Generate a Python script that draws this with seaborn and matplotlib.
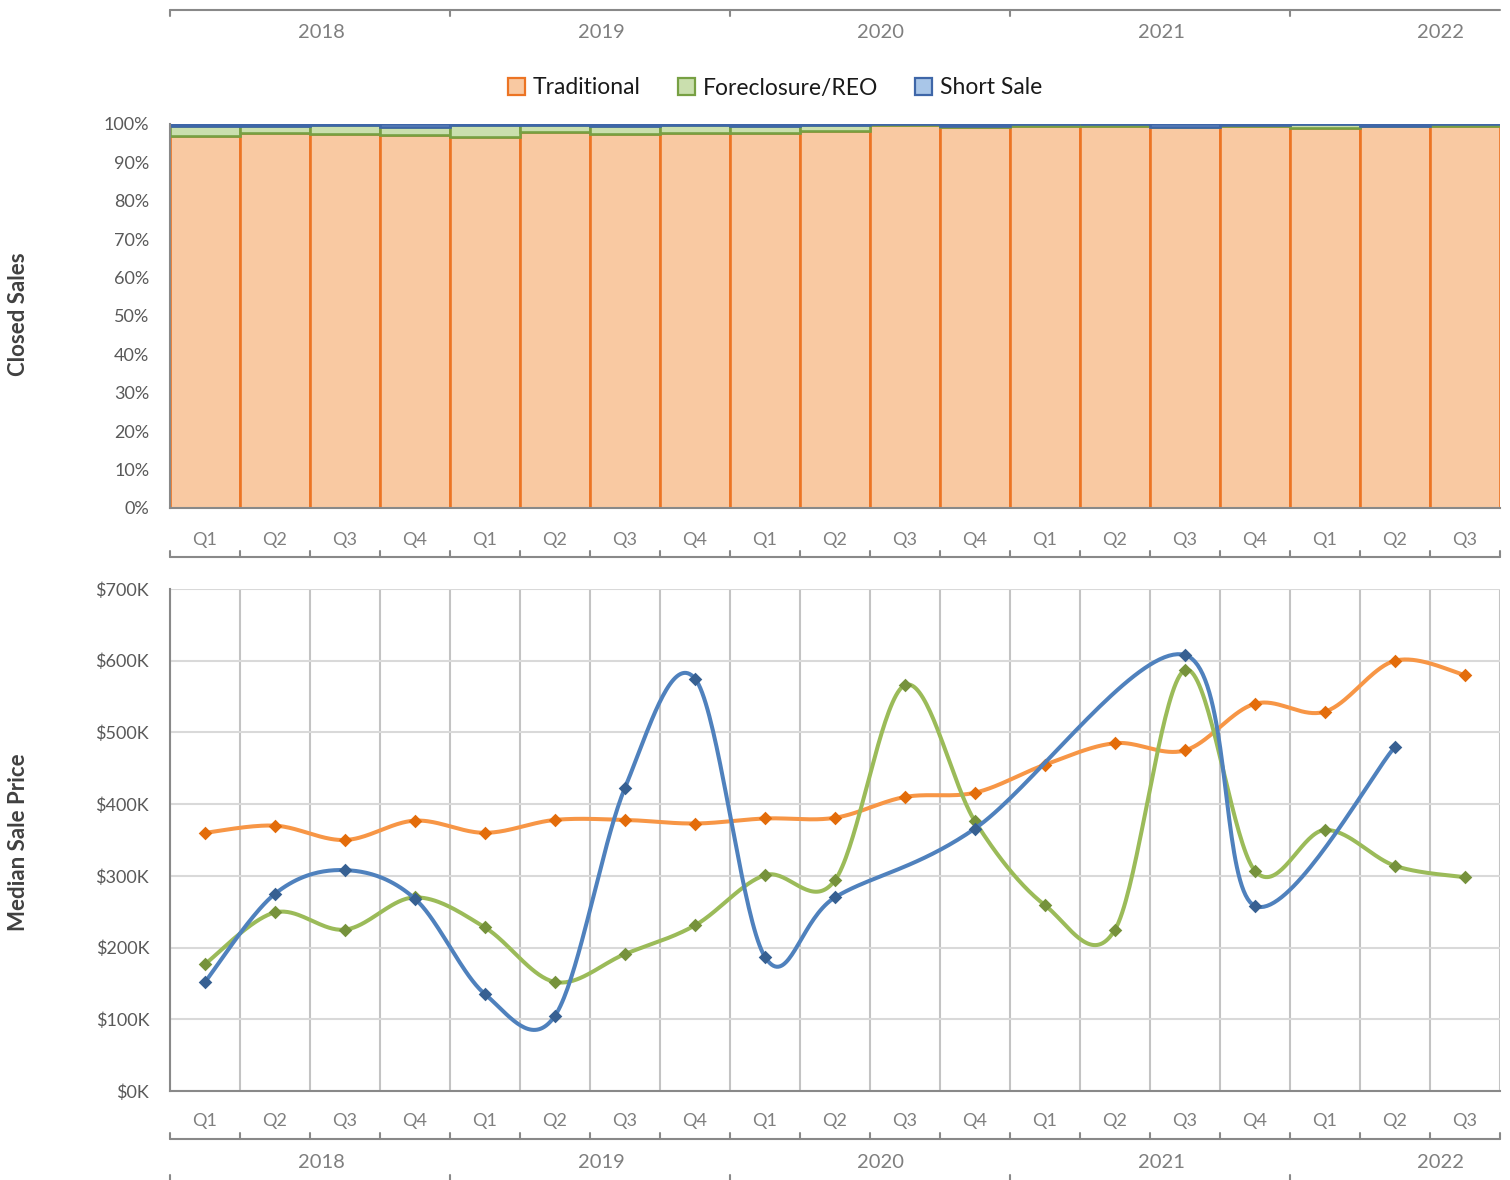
import numpy as np
import pandas as pd
import matplotlib
matplotlib.use("Agg")
import matplotlib.pyplot as plt
import matplotlib.transforms as mtransforms
from matplotlib.patches import Patch
from matplotlib.lines import Line2D
import seaborn as sns

# ---------------- data ----------------
years = ["2018", "2019", "2020", "2021", "2022"]
year_sizes = [4, 4, 4, 4, 3]
quarters = ["Q1", "Q2", "Q3", "Q4"] * 4 + ["Q1", "Q2", "Q3"]
periods = [f"{y} {q}" for y, n in zip(years, year_sizes) for q in ["Q1", "Q2", "Q3", "Q4"][:n]]

traditional_pct = [97.0, 97.7, 97.3, 97.1, 96.7, 97.9, 97.5, 97.7, 97.6, 98.1,
                   99.7, 99.3, 99.5, 99.5, 99.3, 99.5, 99.0, 99.4, 99.5]
foreclosure_pct = [2.6, 1.7, 2.4, 2.2, 3.1, 1.9, 1.9, 2.1, 1.8, 1.7,
                   0.3, 0.1, 0.5, 0.5, 0.0, 0.2, 1.0, 0.0, 0.5]
short_sale_pct = [0.4, 0.6, 0.3, 0.7, 0.2, 0.2, 0.6, 0.2, 0.6, 0.2,
                  0.0, 0.6, 0.0, 0.0, 0.7, 0.3, 0.0, 0.6, 0.0]

traditional_price = [360, 370, 350, 377, 360, 378, 378, 373, 380, 381,
                     410, 416, 455, 485, 475, 540, 529, 600, 580]
foreclosure_price = [177, 249, 225, 270, 228, 152, 191, 231, 301, 294,
                     566, 376, 259, 225, 587, 307, 364, 314, 298]
short_sale_price = [152, 275, 308, 268, 135, 105, 423, 575, 187, 270,
                    np.nan, 366, np.nan, np.nan, 608, 258, np.nan, 480, np.nan]

series_names = ["Traditional", "Foreclosure/REO", "Short Sale"]
bar_fill = ["#F9C9A2", "#CADFAE", "#A9C6E8"]
bar_edge = ["#EC7424", "#77A043", "#3E66A8"]
line_colors = ["#F79646", "#9BBB59", "#4F81BD"]
marker_colors = ["#E36C0A", "#76923C", "#376092"]

# ---------------- style ----------------
sns.set_style("white")
plt.rcParams["font.family"] = ["Lato", "DejaVu Sans"]

W, H = 1510, 1180
fig = plt.figure(figsize=(W / 100, H / 100), dpi=100)


def fy(py):
    return 1 - py / H


def fx(px):
    return px / W


L, R = 170, 1500
ax1 = fig.add_axes([fx(L), fy(508), fx(R) - fx(L), fy(124) - fy(508)])
ax2 = fig.add_axes([fx(L), fy(1091), fx(R) - fx(L), fy(589) - fy(1091)])

AXIS_GRAY = "#898989"
TICK_TXT = "#595959"
CAT_TXT = "#7F7F7F"

# ---------------- stacked 100% bars ----------------
df_bar = pd.DataFrame({"period": periods,
                       "Traditional": traditional_pct,
                       "Foreclosure/REO": foreclosure_pct,
                       "Short Sale": short_sale_pct})
bottom = np.zeros(len(periods))
for name, fc, ec in zip(series_names, bar_fill, bar_edge):
    sns.barplot(data=df_bar, x="period", y=name, order=periods, color=fc,
                saturation=1, edgecolor=ec, linewidth=1.9, width=1.0,
                bottom=bottom.copy(), ax=ax1, errorbar=None)
    bottom += df_bar[name].to_numpy()

ax1.set_xlim(-0.5, len(periods) - 0.5)
ax1.set_ylim(0, 100)
ax1.set_yticks(np.arange(0, 101, 10))
ax1.set_yticklabels([f"{v}%" for v in range(0, 101, 10)])
ax1.set_xticks(np.arange(-0.5, len(periods)))
ax1.set_xticklabels([])
ax1.set_xlabel("")
ax1.set_ylabel("")

# ---------------- smoothed lines ----------------
def excel_smooth(xs, ys, n=40):
    pts = np.array([(x, y) for x, y in zip(xs, ys) if not np.isnan(y)], float)
    m = len(pts)
    segs = []
    t = np.linspace(0, 1, n)[:, None]
    for i in range(m - 1):
        p0 = pts[i - 1] if i > 0 else pts[i]
        p1, p2 = pts[i], pts[i + 1]
        p3 = pts[i + 2] if i + 2 < m else pts[i + 1]
        c1 = p1 + (p2 - p0) / 6
        c2 = p2 - (p3 - p1) / 6
        seg = (1 - t) ** 3 * p1 + 3 * (1 - t) ** 2 * t * c1 + 3 * (1 - t) * t ** 2 * c2 + t ** 3 * p2
        segs.append(seg if i == 0 else seg[1:])
    return np.vstack(segs)


xpos = np.arange(len(periods))
prices = [traditional_price, foreclosure_price, short_sale_price]
for k, (vals, lc, mc) in enumerate(zip(prices, line_colors, marker_colors)):
    v = np.array(vals, float) * 1000
    curve = excel_smooth(xpos, v)
    sns.lineplot(x=curve[:, 0], y=curve[:, 1], sort=False, estimator=None,
                 color=lc, linewidth=2.9, ax=ax2, zorder=3 + 2 * k)
    ok = ~np.isnan(v)
    sns.scatterplot(x=xpos[ok], y=v[ok], marker="D", s=48, color=mc,
                    edgecolor=mc, linewidth=0, ax=ax2, zorder=4 + 2 * k)

ax2.set_xlim(-0.5, len(periods) - 0.5)
ax2.set_ylim(0, 700000)
ax2.set_yticks(np.arange(0, 700001, 100000))
ax2.set_yticklabels([f"${v}K" for v in range(0, 701, 100)])
ax2.set_xticks(np.arange(-0.5, len(periods)))
ax2.set_xticklabels([])
ax2.set_xlabel("")
ax2.set_ylabel("")
ax2.yaxis.grid(True, color="#D9D9D9", linewidth=1.5)
ax2.xaxis.grid(True, color="#C3C3C3", linewidth=1.5)
ax2.set_axisbelow(True)
if ax2.get_legend():
    ax2.get_legend().remove()

# ---------------- axes styling ----------------
for ax in (ax1, ax2):
    for s in ("top", "right"):
        ax.spines[s].set_visible(False)
    for s in ("left", "bottom"):
        ax.spines[s].set_color(AXIS_GRAY)
        ax.spines[s].set_linewidth(1.5)
    ax.tick_params(axis="y", direction="out", length=5, width=1.5, color=AXIS_GRAY,
                   labelsize=13, labelcolor=TICK_TXT, pad=10)
ax1.tick_params(axis="x", direction="out", length=5.5, width=1.5, color=AXIS_GRAY)
ax2.tick_params(axis="x", direction="inout", length=9, width=1.5, color=AXIS_GRAY)

boundaries = np.arange(-0.5, len(periods))
year_starts = np.cumsum([0] + year_sizes[:-1])


def draw_cat_axis(ax, q_y, line_y, year_y, top_year_line=None, bottom_year_ticks=None):
    tr = mtransforms.blended_transform_factory(ax.transData, fig.transFigure)
    for i, q in enumerate(quarters):
        ax.text(i, fy(q_y), q, transform=tr, ha="center", va="center",
                fontsize=13, color=CAT_TXT, clip_on=False)
    ax.add_line(Line2D([-0.5, len(periods) - 0.5], [fy(line_y), fy(line_y)],
                       transform=tr, color=AXIS_GRAY, lw=1.5, clip_on=False))
    for b in boundaries:
        ax.add_line(Line2D([b, b], [fy(line_y - 6), fy(line_y)], transform=tr,
                           color=AXIS_GRAY, lw=1.5, clip_on=False))
    for st, yr in zip(year_starts, years):
        ax.text(st - 0.5 + 2.157, fy(year_y), yr, transform=tr, ha="center",
                va="center", fontsize=14.5, color=CAT_TXT, clip_on=False)
    if top_year_line is not None:
        ax.add_line(Line2D([-0.5, len(periods) - 0.5], [fy(top_year_line), fy(top_year_line)],
                           transform=tr, color=AXIS_GRAY, lw=1.5, clip_on=False))
        for st in year_starts:
            ax.add_line(Line2D([st - 0.5, st - 0.5], [fy(top_year_line), fy(top_year_line + 6)],
                               transform=tr, color=AXIS_GRAY, lw=1.5, clip_on=False))
    if bottom_year_ticks is not None:
        for st in year_starts:
            ax.add_line(Line2D([st - 0.5, st - 0.5], [fy(bottom_year_ticks), fy(bottom_year_ticks + 8)],
                               transform=tr, color=AXIS_GRAY, lw=1.5, clip_on=False))


draw_cat_axis(ax1, 540, 557, 33, top_year_line=10)
draw_cat_axis(ax2, 1121, 1139, 1162, bottom_year_ticks=1175)

ax1.set_xlim(-0.5, len(periods) - 0.5)
ax1.set_ylim(0, 100)
ax2.set_xlim(-0.5, len(periods) - 0.5)
ax2.set_ylim(0, 700000)

# ---------------- labels & legend ----------------
fig.text(fx(19), fy(314), "Closed Sales", rotation=90, ha="center", va="center",
         fontsize=16, fontweight="bold", color="#404040")
fig.text(fx(19), fy(842), "Median Sale Price", rotation=90, ha="center", va="center",
         fontsize=16, fontweight="bold", color="#404040")

handles = [Patch(facecolor=fc, edgecolor=ec, linewidth=1.6, label=n)
           for n, fc, ec in zip(series_names, bar_fill, bar_edge)]
fig.legend(handles=handles, loc="center", bbox_to_anchor=(fx(775), fy(88)), ncol=3,
           frameon=False, fontsize=16.5, handlelength=0.75, handleheight=0.75,
           handletextpad=0.35, columnspacing=1.6, labelcolor="#1A1A1A")

fig.savefig("out.png", dpi=100)
